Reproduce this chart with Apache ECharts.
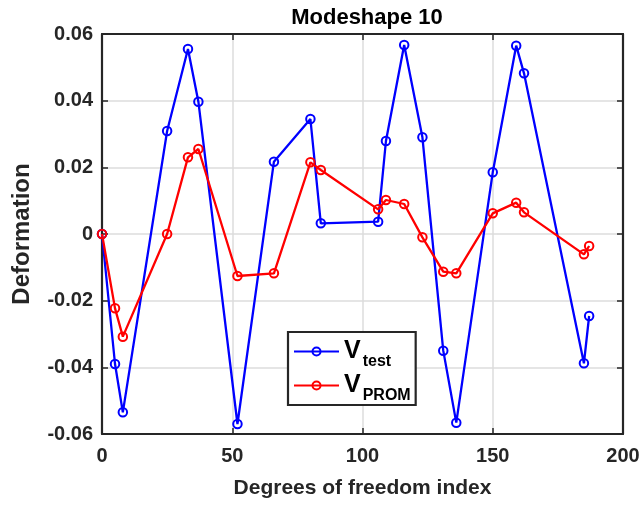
<!DOCTYPE html>
<html>
<head>
<meta charset="utf-8">
<script src="https://cdn.jsdelivr.net/npm/echarts@6/dist/echarts.min.js"></script>
<style>
  html, body { margin: 0; padding: 0; background: #fff; }
  #chart { width: 644px; height: 510px; }
</style>
</head>
<body>
<div id="chart"></div>
<script>
// Degree-of-freedom indices where the mode shape is sampled
const dofIndex = [0, 5, 8, 25, 33, 37, 52, 66, 80, 84, 106, 109, 116, 123, 131, 136, 150, 159, 162, 185, 187];
// Measured mode shape
const vTest = [0, -0.039, -0.0535, 0.0309, 0.0555, 0.0397, -0.057, 0.0217, 0.0345, 0.0032, 0.0037, 0.0279, 0.0567, 0.029, -0.035, -0.0566, 0.0185, 0.0565, 0.0482, -0.0388, -0.0246];
// Reduced-model mode shape
const vProm = [0, -0.0223, -0.0308, 0, 0.023, 0.0255, -0.0126, -0.0118, 0.0215, 0.0192, 0.0074, 0.0102, 0.009, -0.001, -0.0113, -0.0118, 0.0062, 0.0094, 0.0065, -0.0061, -0.0036];
const xTicks = { min: 0, max: 200, interval: 50 };
const yTicks = { min: -0.06, max: 0.06, interval: 0.02 };

const axisColor = '#262626';
const font = 'Arial, "Liberation Sans", sans-serif';

function pairs(xs, ys) { return xs.map((x, i) => [x, ys[i]]); }

function seriesOf(name, color, values) {
  return {
    name: name,
    type: 'line',
    data: pairs(dofIndex, values),
    xAxisIndex: 0, yAxisIndex: 0,
    symbol: 'circle', symbolSize: 8.5,
    showAllSymbol: true,
    lineStyle: { color: color, width: 2.3 },
    itemStyle: { color: 'rgba(255,255,255,0)', borderColor: color, borderWidth: 2 },
    emphasis: { disabled: true },
    animation: false
  };
}

const tickStyle = { show: true, inside: true, length: 6, lineStyle: { color: axisColor, width: 1.5 } };
const frameLine = { show: true, onZero: false, lineStyle: { color: axisColor, width: 2.2 } };
const gridLine = { show: true, lineStyle: { color: '#dcdcdc', width: 1.5 } };

const chart = echarts.init(document.getElementById('chart'), null, { renderer: 'canvas' });
chart.setOption({
  animation: false,
  title: {
    text: 'Modeshape 10',
    left: 362, top: 2, textAlign: 'center',
    textStyle: { fontFamily: font, fontWeight: 'bold', fontSize: 22, color: '#000' }
  },
  grid: { left: 102, right: 21, top: 34, bottom: 76, containLabel: false },
  xAxis: [{
    type: 'value', min: xTicks.min, max: xTicks.max, interval: xTicks.interval,
    name: 'Degrees of freedom index', nameLocation: 'middle', nameGap: 44,
    nameTextStyle: { fontFamily: font, fontWeight: 'bold', fontSize: 21, color: axisColor },
    axisLine: frameLine,
    axisTick: tickStyle,
    axisLabel: { fontFamily: font, fontWeight: 'bold', fontSize: 20, color: axisColor, margin: 12 },
    splitLine: gridLine
  }, {
    type: 'value', position: 'top', min: xTicks.min, max: xTicks.max, interval: xTicks.interval,
    axisLine: frameLine,
    axisTick: tickStyle,
    axisLabel: { show: false }, splitLine: { show: false }
  }],
  yAxis: [{
    type: 'value', min: yTicks.min, max: yTicks.max, interval: yTicks.interval,
    name: 'Deformation', nameLocation: 'middle', nameGap: 68,
    nameTextStyle: { fontFamily: font, fontWeight: 'bold', fontSize: 24, color: axisColor },
    axisLine: frameLine,
    axisTick: tickStyle,
    axisLabel: {
      fontFamily: font, fontWeight: 'bold', fontSize: 20, color: axisColor, margin: 9,
      formatter: v => (Math.abs(v) < 1e-9 ? '0' : v.toFixed(2))
    },
    splitLine: gridLine
  }, {
    type: 'value', position: 'right', min: yTicks.min, max: yTicks.max, interval: yTicks.interval,
    axisLine: frameLine,
    axisTick: tickStyle,
    axisLabel: { show: false }, splitLine: { show: false }
  }],
  legend: {
    orient: 'vertical',
    left: 288, top: 332,
    padding: [7, 5, 1, 5],
    itemGap: 3,
    itemWidth: 45, itemHeight: 10,
    backgroundColor: '#fff',
    borderColor: axisColor, borderWidth: 2.2, borderRadius: 0,
    data: ['V_test', 'V_PROM'],
    formatter: name => {
      const sub = name.split('_')[1];
      return '{v|V}{s|' + sub + '}';
    },
    textStyle: {
      fontFamily: font, color: '#000',
      rich: {
        v: { fontFamily: font, fontWeight: 'bold', fontSize: 25, color: '#000', verticalAlign: 'bottom', lineHeight: 25 },
        s: { fontFamily: font, fontWeight: 'bold', fontSize: 16, color: '#000', verticalAlign: 'bottom', lineHeight: 16, padding: [0, 0, -6, 2] }
      }
    }
  },
  series: [
    seriesOf('V_test', '#0000ff', vTest),
    seriesOf('V_PROM', '#ff0000', vProm)
  ]
});
</script>
</body>
</html>
